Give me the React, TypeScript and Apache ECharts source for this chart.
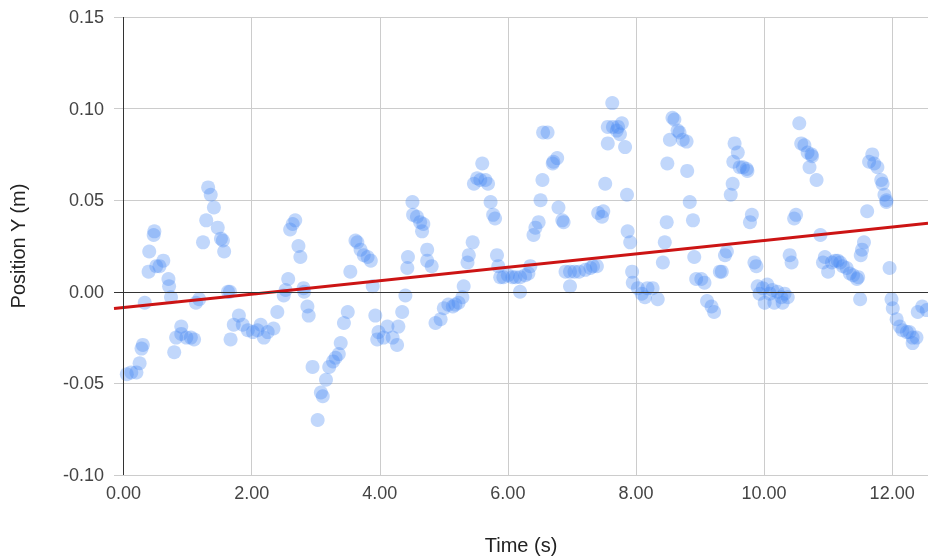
import React, { useEffect, useRef } from "react";
import * as echarts from "echarts";

// Time (s) / Position Y (m), in five stretches of time
const SEG1_T = [0.05, 0.12, 0.2, 0.25, 0.28, 0.3, 0.33, 0.39, 0.4, 0.47, 0.48, 0.51, 0.56, 0.62, 0.7, 0.71, 0.74, 0.79, 0.82, 0.9, 0.9, 0.98, 1.05, 1.1, 1.13, 1.18, 1.24, 1.29, 1.32, 1.36, 1.41, 1.47, 1.52, 1.55, 1.57, 1.63, 1.66, 1.67, 1.72, 1.8, 1.86, 1.94, 2.02, 2.09, 2.14, 2.19, 2.25, 2.34, 2.4];
const SEG1_Y = [-0.045, -0.044, -0.044, -0.039, -0.031, -0.029, -0.006, 0.011, 0.022, 0.031, 0.033, 0.014, 0.014, 0.017, 0.007, 0.003, -0.003, -0.033, -0.025, -0.019, -0.023, -0.025, -0.025, -0.026, -0.006, -0.004, 0.027, 0.039, 0.057, 0.053, 0.046, 0.035, 0.029, 0.028, 0.022, 0.0, 0.0, -0.026, -0.018, -0.013, -0.018, -0.021, -0.022, -0.021, -0.018, -0.025, -0.022, -0.02, -0.011];

const SEG2_T = [2.5, 2.53, 2.57, 2.6, 2.64, 2.68, 2.73, 2.76, 2.81, 2.82, 2.87, 2.89, 2.95, 3.03, 3.08, 3.11, 3.16, 3.21, 3.27, 3.31, 3.36, 3.39, 3.44, 3.5, 3.54, 3.62, 3.65, 3.7, 3.75, 3.81, 3.86, 3.89, 3.93, 3.96, 3.98, 4.06, 4.12, 4.2, 4.27, 4.29, 4.35, 4.4, 4.43, 4.44, 4.51, 4.52, 4.58, 4.63, 4.66, 4.68, 4.74, 4.74, 4.81];
const SEG2_Y = [-0.002, 0.001, 0.007, 0.034, 0.037, 0.039, 0.025, 0.019, 0.002, 0.0, -0.008, -0.013, -0.041, -0.07, -0.055, -0.057, -0.048, -0.041, -0.038, -0.036, -0.034, -0.028, -0.017, -0.011, 0.011, 0.028, 0.027, 0.023, 0.02, 0.019, 0.017, 0.003, -0.013, -0.026, -0.022, -0.025, -0.019, -0.025, -0.029, -0.019, -0.011, -0.002, 0.013, 0.019, 0.049, 0.042, 0.041, 0.038, 0.033, 0.037, 0.023, 0.017, 0.014];

const SEG3_T = [4.87, 4.95, 5.0, 5.07, 5.14, 5.18, 5.23, 5.29, 5.31, 5.37, 5.39, 5.45, 5.47, 5.52, 5.6, 5.57, 5.65, 5.69, 5.73, 5.77, 5.8, 5.83, 5.85, 5.88, 5.93, 6.0, 6.07, 6.12, 6.19, 6.27, 6.32, 6.35, 6.19, 6.4, 6.43, 6.48, 6.51, 6.54, 6.55, 6.62, 6.7, 6.71, 6.77, 6.79, 6.85, 6.87, 6.9, 6.97, 7.04, 7.11, 6.97];
const SEG3_Y = [-0.017, -0.015, -0.009, -0.007, -0.008, -0.007, -0.006, -0.003, 0.003, 0.016, 0.02, 0.027, 0.059, 0.062, 0.07, 0.061, 0.061, 0.059, 0.049, 0.042, 0.04, 0.02, 0.014, 0.008, 0.008, 0.009, 0.008, 0.008, 0.008, 0.009, 0.01, 0.014, 0.0, 0.031, 0.035, 0.038, 0.05, 0.061, 0.087, 0.087, 0.07, 0.071, 0.073, 0.046, 0.039, 0.038, 0.011, 0.011, 0.011, 0.011, 0.003];

const SEG4_T = [7.21, 7.29, 7.33, 7.39, 7.41, 7.47, 7.49, 7.52, 7.56, 7.56, 7.64, 7.7, 7.72, 7.78, 7.75, 7.83, 7.63, 7.86, 7.87, 7.91, 7.94, 7.95, 8.03, 8.09, 8.14, 8.18, 8.26, 8.34, 8.42, 8.45, 8.48, 8.49, 8.53, 8.57, 8.6, 8.65, 8.68, 8.73, 8.79, 8.8, 8.84, 8.89, 8.91, 8.94, 9.02, 9.07, 9.11, 9.18, 9.22];
const SEG4_Y = [0.012, 0.013, 0.014, 0.014, 0.043, 0.041, 0.044, 0.059, 0.081, 0.09, 0.09, 0.088, 0.09, 0.092, 0.086, 0.079, 0.103, 0.053, 0.033, 0.027, 0.011, 0.005, 0.002, -0.001, -0.003, 0.002, 0.002, -0.004, 0.016, 0.027, 0.038, 0.07, 0.083, 0.095, 0.094, 0.088, 0.087, 0.083, 0.082, 0.066, 0.049, 0.039, 0.019, 0.007, 0.007, 0.005, -0.005, -0.008, -0.011];

const SEG5_T = [9.31, 9.34, 9.39, 9.42, 9.48, 9.51, 9.52, 9.54, 9.59, 9.62, 9.67, 9.73, 9.74, 9.78, 9.81, 9.85, 9.88, 9.9, 9.93, 9.98, 10.01, 10.05, 10.09, 10.13, 10.16, 10.21, 10.27, 10.29, 10.32, 10.37, 10.4, 10.43, 10.47, 10.5, 10.55, 10.58, 10.63, 10.68, 10.74, 10.75, 10.71, 10.82, 10.88, 10.92, 10.95, 11.0, 11.06, 11.11, 11.15, 11.19, 11.23, 11.29, 11.34, 11.39, 11.45, 11.47, 11.5, 11.51, 11.53, 11.56, 11.61, 11.64, 11.69, 11.72, 11.77, 11.83, 11.85, 11.88, 11.91, 11.91, 11.96, 11.99, 12.01, 12.07, 12.12, 12.16, 12.23, 12.27, 12.32, 12.38, 12.32, 12.4, 12.47, 12.54];
const SEG5_Y = [0.011, 0.011, 0.02, 0.022, 0.053, 0.059, 0.071, 0.081, 0.076, 0.068, 0.068, 0.067, 0.066, 0.038, 0.042, 0.016, 0.014, 0.003, -0.001, 0.002, -0.006, 0.004, -0.001, 0.001, -0.006, 0.0, -0.003, -0.006, -0.001, -0.003, 0.02, 0.016, 0.04, 0.042, 0.092, 0.081, 0.08, 0.076, 0.075, 0.074, 0.068, 0.061, 0.031, 0.016, 0.019, 0.011, 0.016, 0.017, 0.017, 0.016, 0.014, 0.013, 0.01, 0.009, 0.007, 0.008, -0.004, 0.02, 0.023, 0.027, 0.044, 0.071, 0.075, 0.07, 0.068, 0.061, 0.059, 0.053, 0.05, 0.049, 0.013, -0.004, -0.009, -0.015, -0.019, -0.021, -0.022, -0.022, -0.025, -0.025, -0.028, -0.011, -0.008, -0.01];

// Linear trendline
const TREND_INTERCEPT = -0.0086;
const TREND_SLOPE = 0.00366;

const X_MIN = -0.15;
const X_MAX = 12.56;
const Y_MIN = -0.1;
const Y_MAX = 0.15;
const Y_STEP = 0.05;
const X_STEP = 2;

const FONT = "'Liberation Sans', Arial, Helvetica, sans-serif";

export default function App() {
  const ref = useRef<HTMLDivElement>(null);

  useEffect(() => {
    if (!ref.current) return;
    const chart = echarts.init(ref.current, null, { renderer: "svg" });

    const times = [...SEG1_T, ...SEG2_T, ...SEG3_T, ...SEG4_T, ...SEG5_T];
    const positions = [...SEG1_Y, ...SEG2_Y, ...SEG3_Y, ...SEG4_Y, ...SEG5_Y];
    const points = times.map((t, i) => [t, positions[i]]);
    const trend = [X_MIN, X_MAX].map((x) => [x, TREND_INTERCEPT + TREND_SLOPE * x]);

    const isStep = (v: number, step: number) => Math.abs(v / step - Math.round(v / step)) < 1e-6;

    chart.setOption({
      animation: false,
      grid: { left: 113, top: 17, right: 0, bottom: 85 },
      xAxis: {
        type: "value",
        min: X_MIN,
        max: X_MAX,
        splitNumber: 6,
        minInterval: X_STEP,
        maxInterval: X_STEP,
        axisLine: { show: false },
        axisTick: { show: false },
        splitLine: {
          show: true,
          showMinLine: false,
          showMaxLine: false,
          lineStyle: { color: "#cccccc", width: 1 },
        },
        axisLabel: {
          margin: 9,
          fontFamily: FONT,
          fontSize: 18,
          color: "#444444",
          showMinLabel: false,
          showMaxLabel: false,
          formatter: (v: number) => (isStep(v, X_STEP) ? (Math.abs(v) < 1e-9 ? 0 : v).toFixed(2) : ""),
        },
        name: "Time (s)",
        nameLocation: "middle",
        nameGap: 60,
        nameTextStyle: { fontFamily: FONT, fontSize: 20, color: "#222222" },
      },
      yAxis: {
        type: "value",
        min: Y_MIN,
        max: Y_MAX,
        interval: Y_STEP,
        axisLine: { show: false },
        axisTick: { show: false },
        splitLine: { show: true, lineStyle: { color: "#cccccc", width: 1 } },
        axisLabel: {
          margin: 10,
          fontFamily: FONT,
          fontSize: 18,
          color: "#444444",
          formatter: (v: number) => (Math.abs(v) < 1e-9 ? 0 : v).toFixed(2),
        },
        name: "Position Y (m)",
        nameLocation: "middle",
        nameGap: 86,
        nameTextStyle: { fontFamily: FONT, fontSize: 20, color: "#222222" },
      },
      series: [
        {
          type: "scatter",
          data: [],
          z: 1,
          silent: true,
          markLine: {
            silent: true,
            symbol: ["none", "none"],
            label: { show: false },
            lineStyle: { color: "#333333", width: 1, type: "solid" },
            emphasis: { disabled: true },
            data: [{ yAxis: 0 }, { xAxis: 0 }],
          },
        },
        {
          type: "scatter",
          data: points,
          symbol: "circle",
          symbolSize: 14,
          z: 2,
          itemStyle: { color: "#4285f4", opacity: 0.33 },
        },
        {
          type: "line",
          data: trend,
          symbol: "none",
          z: 3,
          lineStyle: { color: "#cc1414", width: 3 },
        },
      ],
    });

    return () => chart.dispose();
  }, []);

  return (
    <div
      ref={ref}
      style={{ position: "fixed", left: 0, top: 0, width: 928, height: 560 }}
    />
  );
}
